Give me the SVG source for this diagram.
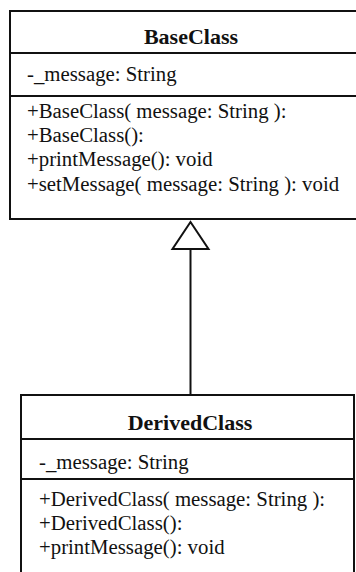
<svg xmlns="http://www.w3.org/2000/svg" width="356" height="572" viewBox="0 0 356 572">
  <style>
    .box { fill: #ffffff; stroke: #111111; stroke-width: 2; }
    .sep { stroke: #111111; stroke-width: 2; }
    .name { font-family: "Liberation Serif", "Times New Roman", serif; font-size: 22px; font-weight: bold; fill: #111111; text-anchor: middle; }
    .member { font-family: "Liberation Serif", "Times New Roman", serif; font-size: 20.8px; fill: #111111; }
    .edge { stroke: #111111; stroke-width: 2; fill: none; }
    .head { fill: #ffffff; stroke: #111111; stroke-width: 2; stroke-linejoin: miter; }
  </style>
  <rect width="356" height="572" fill="#ffffff"/>

  <!-- inheritance connector: DerivedClass -> BaseClass -->
  <g id="connectors">
    <line class="edge" x1="190.5" y1="249" x2="190.5" y2="395"/>
    <polygon class="head" points="190.5,222 172.5,249 208.5,249"/>
  </g>

  <g id="BaseClass">
    <rect class="box" x="10" y="11" width="360" height="208"/>
    <line class="sep" x1="10" y1="53" x2="356" y2="53"/>
    <line class="sep" x1="10" y1="96" x2="356" y2="96"/>
    <text class="name" x="191" y="44">BaseClass</text>
    <text class="member" x="27" y="81">-_message: String</text>
    <text class="member" x="27" y="118">+BaseClass( message: String ):</text>
    <text class="member" x="27" y="142">+BaseClass():</text>
    <text class="member" x="27" y="166">+printMessage(): void</text>
    <text class="member" x="27" y="191">+setMessage( message: String ): void</text>
  </g>

  <g id="DerivedClass">
    <rect class="box" x="21" y="395" width="333" height="190"/>
    <line class="sep" x1="21" y1="439" x2="354" y2="439"/>
    <line class="sep" x1="21" y1="479" x2="354" y2="479"/>
    <text class="name" x="190" y="430">DerivedClass</text>
    <text class="member" x="39" y="469">-_message: String</text>
    <text class="member" x="39" y="506">+DerivedClass( message: String ):</text>
    <text class="member" x="39" y="530">+DerivedClass():</text>
    <text class="member" x="39" y="554">+printMessage(): void</text>
  </g>
</svg>
